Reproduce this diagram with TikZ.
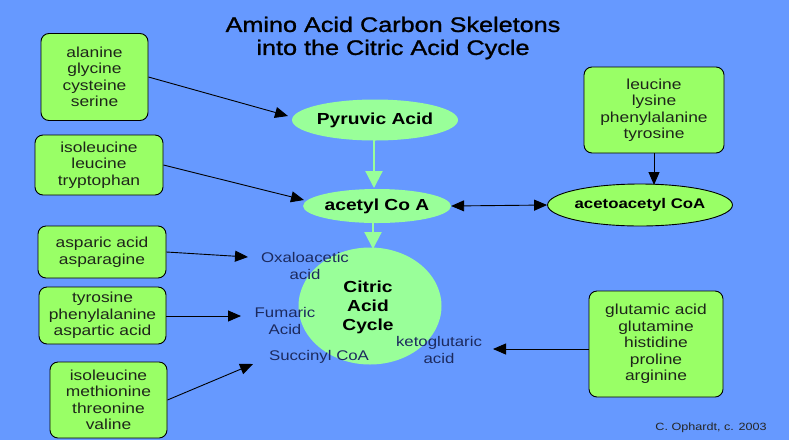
\documentclass[tikz,border=0pt]{standalone}
\usepackage{fontspec}
\setmainfont[FakeStretch=1.2]{Liberation Sans}
\newfontfamily\titlefont[FakeStretch=1.2,FakeBold=1.2]{Liberation Sans}
\usetikzlibrary{arrows.meta,shapes.geometric}
\definecolor{bgblue}{HTML}{6699FF}
\definecolor{boxgreen}{HTML}{99FF66}
\definecolor{palegreen}{HTML}{99FF99}
\definecolor{labelnavy}{HTML}{1C2A5E}
\definecolor{boxtext}{HTML}{1E261A}
\begin{document}
\begin{tikzpicture}[x=1pt,y=-1pt,
  aabox/.style={draw=black,line width=0.9pt,fill=boxgreen,rounded corners=8pt,
    align=center,inner sep=0pt,text=boxtext,
    font=\fontsize{14.5}{16.5}\selectfont},
  paleell/.style={ellipse,fill=palegreen,inner sep=0pt,align=center,
    font=\bfseries\fontsize{16}{19}\selectfont},
  cyclab/.style={align=center,inner sep=0pt,text=labelnavy,
    font=\fontsize{14}{16.5}\selectfont},
  blk/.style={-{Triangle[length=13pt,width=11pt]},line width=0.9pt,black},
  grn/.style={-{Triangle[length=17pt,width=17pt]},line width=2.2pt,palegreen}
]
\useasboundingbox (0,0) rectangle (789,440);
\fill[bgblue] (0,0) rectangle (789,440);

% title
\node[align=center,inner sep=0pt,font=\titlefont\fontsize{21}{23}\selectfont] (title) at (393,38)
  {Amino Acid Carbon Skeletons\\into the Citric Acid Cycle};

% boxes
\node[aabox,minimum width=107pt,minimum height=87pt] (b1) at (94.5,77)
  {alanine\\glycine\\cysteine\\serine};
\node[aabox,minimum width=128pt,minimum height=60pt] (b2) at (99,165)
  {isoleucine\\leucine\\tryptophan};
\node[aabox,minimum width=128pt,minimum height=52pt] (b3) at (102,252)
  {asparic acid\\asparagine};
\node[aabox,minimum width=127pt,minimum height=57pt] (b4) at (102.5,315.5)
  {tyrosine\\phenylalanine\\aspartic acid};
\node[aabox,minimum width=117pt,minimum height=76pt] (b5) at (108.5,400)
  {isoleucine\\methionine\\threonine\\valine};
\node[aabox,minimum width=140pt,minimum height=86pt] (b6) at (654,110)
  {leucine\\lysine\\phenylalanine\\tyrosine};
\node[aabox,minimum width=134pt,minimum height=106pt] (b7) at (656,344)
  {glutamic acid\\glutamine\\histidine\\proline\\arginine};

% ellipses
\node[paleell,minimum width=166pt,minimum height=41pt] (pyr) at (375,120) {Pyruvic Acid};
\node[paleell,minimum width=140pt,minimum height=34pt] (acet) at (377,206) {acetyl Co A};
\node[paleell,minimum width=143pt,minimum height=117pt] (cit) at (370,306) {};
\node[align=center,inner sep=0pt,font=\bfseries\fontsize{16}{19}\selectfont] (cittext) at (368,307)
  {Citric\\Acid\\Cycle};
\node[ellipse,draw=black,line width=0.9pt,fill=boxgreen,inner sep=0pt,
  minimum width=183pt,minimum height=42pt,font=\bfseries\fontsize{14}{16}\selectfont]
  (acac) at (640,205) {acetoacetyl CoA};

% cycle labels
\node[cyclab] (oxa) at (305,266) {Oxaloacetic\\acid};
\node[cyclab] (fum) at (285,321) {Fumaric\\Acid};
\node[cyclab] (suc) at (319,357) {Succinyl CoA};
\node[cyclab] (keto) at (439,350) {ketoglutaric\\acid};

% credit
\node[inner sep=0pt,text=black!85,font=\fontsize{10.5}{12}\selectfont] (credit) at (711,428)
  {C. Ophardt, c. 2003};

% green arrows
\coordinate (pa) at (374,140);
\coordinate (pb) at (374,188);
\coordinate (ca) at (373,223);
\coordinate (cb) at (373,249);
\draw[grn] (pa) -- (pb);
\draw[grn] (ca) -- (cb);

% black arrows
\coordinate (t1) at (288,116);
\coordinate (t2) at (304,200);
\coordinate (t3) at (248,257);
\coordinate (t4) at (241,316);
\coordinate (t5) at (253,364);
\coordinate (t7) at (493,349);
\coordinate (t6) at (654,185);
\draw[blk] (b1.east |- 0,77) -- (t1);
\draw[blk] (b2.east |- 0,165) -- (t2);
\draw[blk] (b3.east) -- (t3);
\draw[blk] (b4.east |- 0,316) -- (t4);
\draw[blk] (b5.east) -- (t5);
\draw[blk] (b7.west |- 0,349) -- (t7);
\draw[blk] (b6.south) -- (t6);
\draw[{Triangle[length=13pt,width=11pt]}-{Triangle[length=13pt,width=11pt]},line width=0.9pt]
  (acet.east) -- (acac.west);
\end{tikzpicture}
\end{document}
